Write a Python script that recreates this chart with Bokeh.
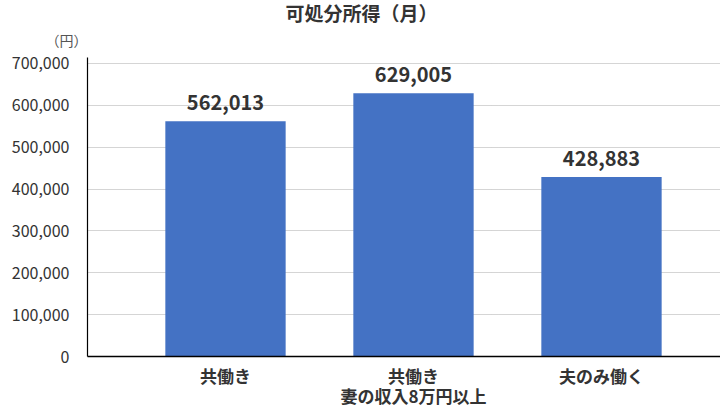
from bokeh.plotting import figure
from bokeh.models import FixedTicker, NumeralTickFormatter, Range1d, Title, ColumnDataSource
from bokeh.core.properties import value
from bokeh.embed import file_html
from bokeh.resources import INLINE

categories = ["共働き", "共働き\n妻の収入8万円以上", "夫のみ働く"]
values = [562013, 629005, 428883]
y_ticks = [0, 100000, 200000, 300000, 400000, 500000, 600000, 700000]
title_text = "可処分所得（月）"
unit_text = "（円）"

FONT = "Noto Sans CJK JP"
xs = [1, 2, 3]

p = figure(width=720, height=410, output_backend="svg", toolbar_location=None,
           x_range=Range1d(0.266, 3.633), y_range=Range1d(0, 714300),
           min_border_left=87, min_border_right=0, min_border_top=57, min_border_bottom=54)
p.outline_line_color = None
p.background_fill_color = "white"
p.border_fill_color = "white"
p.title.visible = False

src = ColumnDataSource(dict(x=xs, top=values, lab=[f"{v:,}" for v in values]))
p.vbar(x="x", top="top", width=0.64, source=src, fill_color="#4472C4", line_color=None)
p.text(x="x", y="top", text="lab", source=src, y_offset=-11, text_align="center",
       text_baseline="bottom", text_font=value(FONT), text_font_size="20px",
       text_font_style="bold", text_color="#333333")

p.xaxis.ticker = FixedTicker(ticks=xs)
p.xaxis.major_label_overrides = {x: c for x, c in zip(xs, categories)}
p.xaxis.major_tick_line_color = None
p.xaxis.minor_tick_line_color = None
p.xaxis.axis_line_color = "black"
p.xaxis.axis_line_width = 1.5
p.xaxis.major_label_text_font = FONT
p.xaxis.major_label_text_font_size = "17px"
p.xaxis.major_label_text_font_style = "bold"
p.xaxis.major_label_text_color = "#333333"
p.xaxis.major_label_text_line_height = 0.81
p.xaxis.major_label_standoff = 0
p.xgrid.grid_line_color = None

p.yaxis.ticker = FixedTicker(ticks=y_ticks)
p.yaxis.formatter = NumeralTickFormatter(format="0,0")
p.yaxis.major_tick_line_color = None
p.yaxis.minor_tick_line_color = None
p.yaxis.axis_line_color = "black"
p.yaxis.axis_line_width = 1.2
p.yaxis.major_label_text_font = FONT
p.yaxis.major_label_text_font_size = "16px"
p.yaxis.major_label_text_color = "#333333"
p.yaxis.major_label_standoff = 12
p.ygrid.grid_line_color = "#aaaaaa"
p.ygrid.grid_line_dash = "1 1"
p.ygrid.grid_line_width = 1

p.add_layout(Title(text=unit_text, align="left", offset=-42, standoff=15,
                   text_font=FONT, text_font_size="14px", text_font_style="normal",
                   text_color="#555555"), "above")
p.add_layout(Title(text=title_text, align="left", offset=198, standoff=-10,
                   text_font=FONT, text_font_size="19px", text_font_style="bold",
                   text_color="#333333"), "above")

open("out.html", "w").write(file_html(p, INLINE))
